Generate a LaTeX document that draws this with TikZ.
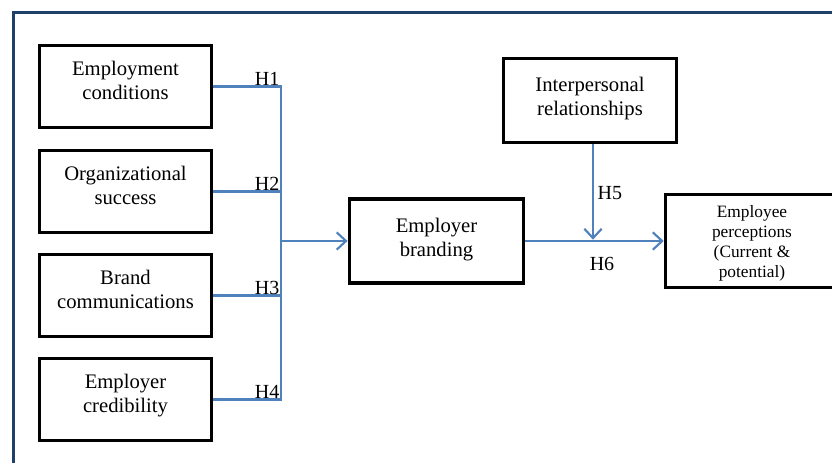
\documentclass[tikz,border=0pt]{standalone}
\usepackage{fontspec}
\setmainfont{Liberation Serif}
\usetikzlibrary{arrows.meta}
\definecolor{framenavy}{RGB}{31,64,104}
\definecolor{linkblue}{RGB}{79,129,189}
\begin{document}
\begin{tikzpicture}[x=0.75pt, y=-0.75pt,
    factor/.style={draw=black, line width=2.4pt, fill=white, align=center,
        minimum width=129pt, minimum height=62pt, inner sep=2pt, text depth=9pt,
        font=\fontsize{15.5}{18}\selectfont},
    link/.style={draw=linkblue, line width=1.6pt},
    linkarrow/.style={link, -{Straight Barb[length=7pt, width=13pt, line width=1.6pt]}},
    hyp/.style={font=\fontsize{15}{18}\selectfont, inner sep=1pt}]
    % Page area and outer frame
    \clip (0,0) rectangle (832,462);
    \draw[framenavy, line width=2.4pt] (13.5,12.5) rectangle (900,520);

    % Antecedent boxes
    \node[factor] (e1) at (125.5,86.5) {Employment\\conditions};
    \node[factor] (e2) at (125.5,191.5) {Organizational\\success};
    \node[factor] (e3) at (125.5,295.5) {Brand\\communications};
    \node[factor] (e4) at (125.5,399.5) {Employer\\credibility};

    % Central and outcome boxes
    \node[factor, minimum width=131pt, minimum height=63pt, text depth=6pt] (brand) at (436.5,241) {Employer\\branding};
    \node[factor, minimum width=130pt, minimum height=63pt, text depth=6pt] (inter) at (590,100.5) {Interpersonal\\relationships};
    \node[factor, minimum width=130pt, minimum height=70pt, text depth=0pt,
          font=\fontsize{13}{15}\selectfont] (percep) at (752,241)
          {Employee\\perceptions\\(Current \&\\potential)};

    % Bus for H1--H4
    \coordinate (bus) at (281,241);
    \draw[link] (e1.east) -| (bus);
    \draw[link] (e2.east) -| (bus);
    \draw[link] (e3.east) -| (bus);
    \draw[link] (e4.east) -| (bus);
    \draw[linkarrow] (bus) -- (brand.west);

    \node[hyp, anchor=base east] (h1) at ([yshift=1pt]e1.east -| bus) {H1};
    \node[hyp, anchor=base east] (h2) at ([yshift=1pt]e2.east -| bus) {H2};
    \node[hyp, anchor=base east] (h3) at ([yshift=1pt]e3.east -| bus) {H3};
    \node[hyp, anchor=base east] (h4) at ([yshift=1pt]e4.east -| bus) {H4};

    % Moderator and outcome
    \coordinate (mid) at (593,241);
    \draw[linkarrow] (brand.east) -- (percep.west);
    \draw[linkarrow] (inter.south -| mid) -- ([yshift=1pt]mid);
    \node[hyp, anchor=west] (h5) at (596,193) {H5};
    \node[hyp] (h6) at (602,264) {H6};
\end{tikzpicture}
\end{document}
